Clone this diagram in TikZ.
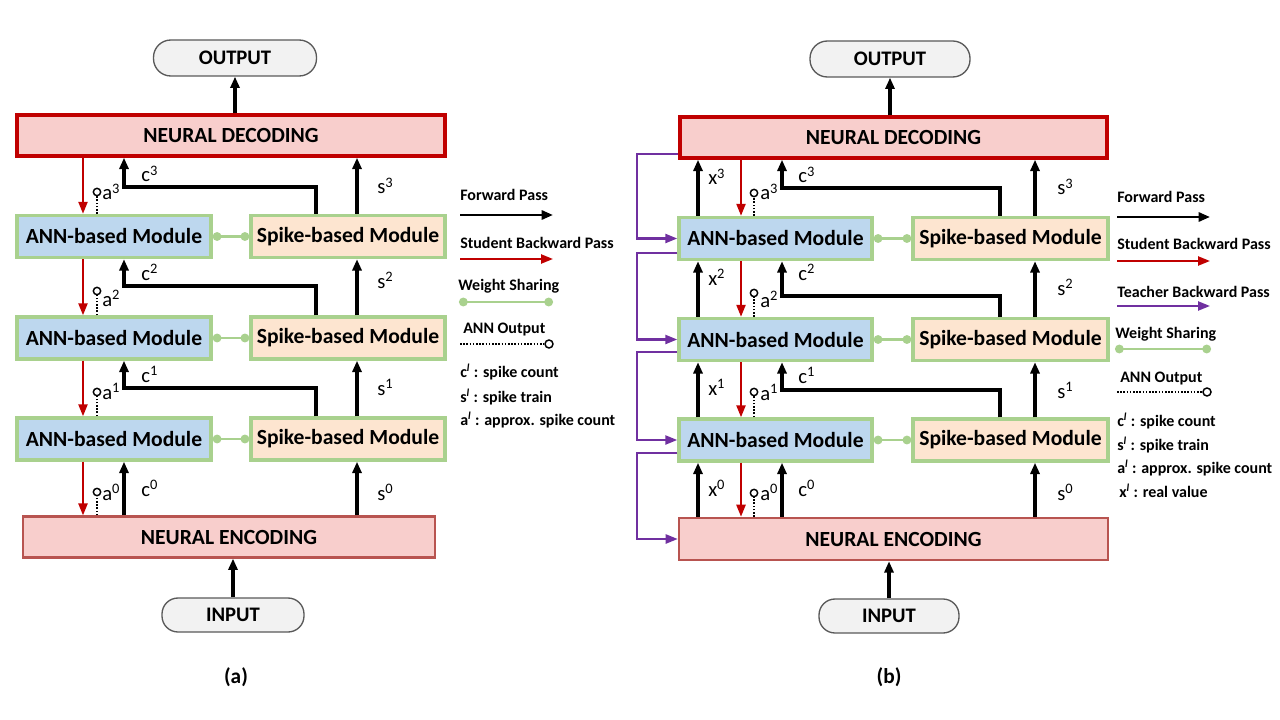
\documentclass[tikz,border=0pt]{standalone}
\usepackage{fontspec}
\setmainfont{Carlito}
\usetikzlibrary{arrows.meta,calc}
\definecolor{decfill}{HTML}{F8CECC}
\definecolor{decline}{HTML}{C00000}
\definecolor{encline}{HTML}{B85450}
\definecolor{annfill}{HTML}{BDD7EE}
\definecolor{modline}{HTML}{A9D18E}
\definecolor{spkfill}{HTML}{FDE5D0}
\definecolor{stud}{HTML}{C00000}
\definecolor{teach}{HTML}{7030A0}
\definecolor{ovfill}{HTML}{F2F2F2}
\definecolor{ovline}{HTML}{595959}
\begin{document}
\begin{tikzpicture}[x=0.75pt,y=-0.75pt,
  modbox/.style={draw=modline, line width=2.6pt, inner sep=0pt, minimum height=31.5pt,
     font=\fontsize{16.2}{18}\selectfont\bfseries},
  ann/.style={modbox, fill=annfill, minimum width=145.5pt},
  spk/.style={modbox, fill=spkfill, minimum width=145.5pt},
  decbox/.style={draw=decline, fill=decfill, line width=2.6pt, inner sep=0pt, minimum height=30.75pt,
     font=\fontsize{16.2}{18}\selectfont\bfseries},
  encbox/.style={draw=encline, fill=decfill, line width=1.9pt, inner sep=0pt, minimum height=30.5pt,
     font=\fontsize{16.2}{18}\selectfont\bfseries},
  oval/.style={draw=ovline, fill=ovfill, line width=1pt, rounded corners=13pt, inner sep=0pt,
     minimum height=27pt, font=\fontsize{15.5}{18}\selectfont\bfseries},
  fwd/.style={draw=black, line width=2.3pt, -{Triangle[length=8.5pt,width=6.8pt]}},
  stu/.style={draw=stud, line width=1.6pt, -{Triangle[length=9pt,width=6.8pt]}},
  tea/.style={draw=teach, line width=1.6pt, -{Triangle[length=9pt,width=6.8pt]}},
  ws/.style={draw=modline, line width=2.2pt, {Circle[length=6.5pt,fill=modline]}-{Circle[length=6.5pt,fill=modline]}},
  anno/.style={draw=black, line width=1.2pt, dash pattern=on 1.2pt off 1.2pt},
  odot/.style={circle, draw=black, fill=white, line width=1.1pt, inner sep=0pt, minimum size=5.5pt},
  lab/.style={anchor=base west, inner sep=0pt, font=\fontsize{15.5}{18}\selectfont},
  leg/.style={anchor=base west, inner sep=0pt, font=\fontsize{12}{14}\selectfont\bfseries},
  capt/.style={inner sep=0pt, font=\fontsize{16}{18}\selectfont\bfseries}
]
\useasboundingbox (0,0) rectangle (1280,720);

% ================= LEFT (a) =================
\node[oval, minimum width=122.25pt] (Lout) at (235,58) {OUTPUT};
\node[decbox, minimum width=321pt] (Ldec) at (231,135.5) {NEURAL DECODING};
\node[ann] (Lann3) at (114,236.5) {ANN-based Module};
\node[spk] (Lspk3) at (348,236.5) {Spike-based Module};
\node[ann] (Lann2) at (114,338) {ANN-based Module};
\node[spk] (Lspk2) at (348,338) {Spike-based Module};
\node[ann] (Lann1) at (114,439) {ANN-based Module};
\node[spk] (Lspk1) at (348,439) {Spike-based Module};
\node[encbox, minimum width=309pt] (Lenc) at (229,537) {NEURAL ENCODING};
\node[oval, minimum width=106.5pt, minimum height=25.5pt, rounded corners=12pt] (Lin) at (233,615) {INPUT};
\node[capt] (Lcap) at (236,677) {(a)};

\coordinate (Lxr) at (83,0);
\coordinate (Lxc) at (124,0);
\coordinate (Lxb) at (316,0);
\coordinate (Lxs) at (357,0);

\draw[fwd] (Ldec.north -| Lout) -- (Lout.south);
\draw[fwd] (Lin.north) -- (Lenc.south -| Lin);

\draw[stu] (Ldec.south -| Lxr) -- (Lann3.north -| Lxr);
\draw[stu] (Lann3.south -| Lxr) -- (Lann2.north -| Lxr);
\draw[stu] (Lann2.south -| Lxr) -- (Lann1.north -| Lxr);
\draw[stu] (Lann1.south -| Lxr) -- (Lenc.north -| Lxr);

\draw[fwd] (Lenc.north -| Lxs) -- (Lspk1.south -| Lxs);
\draw[fwd] (Lspk1.north -| Lxs) -- (Lspk2.south -| Lxs);
\draw[fwd] (Lspk2.north -| Lxs) -- (Lspk3.south -| Lxs);
\draw[fwd] (Lspk3.north -| Lxs) -- (Ldec.south -| Lxs);

\draw[fwd] (Lenc.north -| Lxc) -- (Lann1.south -| Lxc);
\coordinate (Lb1) at (124,388);
\coordinate (Lb2) at (124,286);
\coordinate (Lb3) at (124,187);
\draw[fwd] (Lspk1.north -| Lxb) |- (Lb1) -- (Lann2.south -| Lb1);
\draw[fwd] (Lspk2.north -| Lxb) |- (Lb2) -- (Lann3.south -| Lb2);
\draw[fwd] (Lspk3.north -| Lxb) |- (Lb3) -- (Ldec.south -| Lb3);

\draw[ws] (Lann3.east) -- (Lspk3.west);
\draw[ws] (Lann2.east) -- (Lspk2.west);
\draw[ws] (Lann1.east) -- (Lspk1.west);

\node[odot] (La3) at (97,192) {};
\node[odot] (La2) at (97,291) {};
\node[odot] (La1) at (97,392) {};
\node[odot] (La0) at (97,492) {};
\draw[anno] (Lann3.north -| La3) -- (La3.south);
\draw[anno] (Lann2.north -| La2) -- (La2.south);
\draw[anno] (Lann1.north -| La1) -- (La1.south);
\draw[anno] (Lenc.north -| La0) -- (La0.south);

\node[lab] at (102,200) {a\textsuperscript{3}};
\node[lab] at (102,306) {a\textsuperscript{2}};
\node[lab] at (102,399) {a\textsuperscript{1}};
\node[lab] at (102,500) {a\textsuperscript{0}};
\node[lab] at (141,182) {c\textsuperscript{3}};
\node[lab] at (141,280) {c\textsuperscript{2}};
\node[lab] at (141,382) {c\textsuperscript{1}};
\node[lab] at (141,496) {c\textsuperscript{0}};
\node[lab] at (377,194) {s\textsuperscript{3}};
\node[lab] at (377,288) {s\textsuperscript{2}};
\node[lab] at (377,395) {s\textsuperscript{1}};
\node[lab] at (377,500) {s\textsuperscript{0}};

% left legend
\node[leg] at (460,201) {Forward Pass};
\coordinate (LlFa) at (460,215); \coordinate (LlFb) at (553,215);
\draw[fwd, line width=2pt] (LlFa) -- (LlFb);
\node[leg] at (460,248) {Student Backward Pass};
\coordinate (LlSa) at (460,259); \coordinate (LlSb) at (553,259);
\draw[stu] (LlSa) -- (LlSb);
\node[leg] at (458,290) {Weight Sharing};
\coordinate (LlWa) at (459,302); \coordinate (LlWb) at (553,302);
\draw[ws] (LlWa) -- (LlWb);
\node[leg] at (463,333) {ANN Output};
\node[odot, minimum size=6pt] (LlAo) at (549,344) {};
\coordinate (LlAa) at (460,344);
\draw[anno] (LlAa) -- (LlAo.west);
\node[leg] at (460,377) {c\textsuperscript{\textit{l}} : spike count};
\node[leg] at (460,402) {s\textsuperscript{\textit{l}} : spike train};
\node[leg] at (460,425) {a\textsuperscript{\textit{l}} : approx. spike count};

% ================= RIGHT (b) =================
\node[oval, minimum width=120pt] (Rout) at (890,59) {OUTPUT};
\node[decbox, minimum width=320.25pt] (Rdec) at (893.5,137.5) {NEURAL DECODING};
\node[ann, minimum width=144.75pt] (Rann3) at (775.5,238.5) {ANN-based Module};
\node[spk, minimum width=146.25pt] (Rspk3) at (1010.5,238.5) {Spike-based Module};
\node[ann, minimum width=144.75pt] (Rann2) at (775.5,339.5) {ANN-based Module};
\node[spk, minimum width=146.25pt] (Rspk2) at (1010.5,339.5) {Spike-based Module};
\node[ann, minimum width=144.75pt] (Rann1) at (775.5,440) {ANN-based Module};
\node[spk, minimum width=146.25pt] (Rspk1) at (1010.5,440) {Spike-based Module};
\node[encbox, minimum width=321.75pt, minimum height=31.5pt] (Renc) at (893.5,539) {NEURAL ENCODING};
\node[oval, minimum width=105pt, minimum height=25.5pt, rounded corners=12pt] (Rin) at (889,616) {INPUT};
\node[capt] (Rcap) at (889,677) {(b)};

\coordinate (Rxx) at (698,0);
\coordinate (Rxr) at (741,0);
\coordinate (Rxc) at (782,0);
\coordinate (Rxb) at (1000,0);
\coordinate (Rxs) at (1035,0);
\coordinate (Rxp) at (637,0);

\draw[fwd] (Rdec.north -| Rout) -- (Rout.south);
\draw[fwd] (Rin.north) -- (Renc.south -| Rin);

\draw[fwd] (Renc.north -| Rxx) -- (Rann1.south -| Rxx);
\draw[fwd] (Rann1.north -| Rxx) -- (Rann2.south -| Rxx);
\draw[fwd] (Rann2.north -| Rxx) -- (Rann3.south -| Rxx);
\draw[fwd] (Rann3.north -| Rxx) -- (Rdec.south -| Rxx);

\draw[stu] (Rdec.south -| Rxr) -- (Rann3.north -| Rxr);
\draw[stu] (Rann3.south -| Rxr) -- (Rann2.north -| Rxr);
\draw[stu] (Rann2.south -| Rxr) -- (Rann1.north -| Rxr);
\draw[stu] (Rann1.south -| Rxr) -- (Renc.north -| Rxr);

\draw[fwd] (Renc.north -| Rxs) -- (Rspk1.south -| Rxs);
\draw[fwd] (Rspk1.north -| Rxs) -- (Rspk2.south -| Rxs);
\draw[fwd] (Rspk2.north -| Rxs) -- (Rspk3.south -| Rxs);
\draw[fwd] (Rspk3.north -| Rxs) -- (Rdec.south -| Rxs);

\draw[fwd] (Renc.north -| Rxc) -- (Rann1.south -| Rxc);
\coordinate (Rb1) at (782,390);
\coordinate (Rb2) at (782,296);
\coordinate (Rb3) at (782,188);
\draw[fwd] (Rspk1.north -| Rxb) |- (Rb1) -- (Rann2.south -| Rb1);
\draw[fwd] (Rspk2.north -| Rxb) |- (Rb2) -- (Rann3.south -| Rb2);
\draw[fwd] (Rspk3.north -| Rxb) |- (Rb3) -- (Rdec.south -| Rb3);

\draw[ws] (Rann3.east) -- (Rspk3.west);
\draw[ws] (Rann2.east) -- (Rspk2.west);
\draw[ws] (Rann1.east) -- (Rspk1.west);

\coordinate (Rp4) at ($(Rdec.south west)+(0,-6)$);
\coordinate (Rp3) at ($(Rann3.south west)+(0,-8)$);
\coordinate (Rp2) at ($(Rann2.south west)+(0,-10)$);
\coordinate (Rp1) at ($(Rann1.south west)+(0,-10)$);
\draw[tea] (Rp4) -- (Rp4 -| Rxp) |- (Rann3.west);
\draw[tea] (Rp3) -- (Rp3 -| Rxp) |- (Rann2.west);
\draw[tea] (Rp2) -- (Rp2 -| Rxp) |- (Rann1.west);
\draw[tea] (Rp1) -- (Rp1 -| Rxp) |- (Renc.west);

\node[odot] (Ra3) at (754,193) {};
\node[odot] (Ra2) at (754,293) {};
\node[odot] (Ra1) at (754,392) {};
\node[odot] (Ra0) at (754,493) {};
\draw[anno] (Rann3.north -| Ra3) -- (Ra3.south);
\draw[anno] (Rann2.north -| Ra2) -- (Ra2.south);
\draw[anno] (Rann1.north -| Ra1) -- (Ra1.south);
\draw[anno] (Renc.north -| Ra0) -- (Ra0.south);

\node[lab] at (708,185) {x\textsuperscript{3}};
\node[lab] at (708,285) {x\textsuperscript{2}};
\node[lab] at (708,395) {x\textsuperscript{1}};
\node[lab] at (708,496) {x\textsuperscript{0}};
\node[lab] at (760,200) {a\textsuperscript{3}};
\node[lab] at (760,307) {a\textsuperscript{2}};
\node[lab] at (760,400) {a\textsuperscript{1}};
\node[lab] at (760,500) {a\textsuperscript{0}};
\node[lab] at (798,183) {c\textsuperscript{3}};
\node[lab] at (798,280) {c\textsuperscript{2}};
\node[lab] at (798,383) {c\textsuperscript{1}};
\node[lab] at (798,496) {c\textsuperscript{0}};
\node[lab] at (1057,195) {s\textsuperscript{3}};
\node[lab] at (1057,295) {s\textsuperscript{2}};
\node[lab] at (1057,398) {s\textsuperscript{1}};
\node[lab] at (1057,500) {s\textsuperscript{0}};

% right legend
\node[leg] at (1117,203) {Forward Pass};
\coordinate (RlFa) at (1117,217); \coordinate (RlFb) at (1210,217);
\draw[fwd, line width=2pt] (RlFa) -- (RlFb);
\node[leg] at (1117,249) {Student Backward Pass};
\coordinate (RlSa) at (1117,261); \coordinate (RlSb) at (1210,261);
\draw[stu] (RlSa) -- (RlSb);
\node[leg] at (1117,297) {Teacher Backward Pass};
\coordinate (RlTa) at (1117,306); \coordinate (RlTb) at (1210,306);
\draw[tea] (RlTa) -- (RlTb);
\node[leg] at (1115,338) {Weight Sharing};
\coordinate (RlWa) at (1115,349); \coordinate (RlWb) at (1211,349);
\draw[ws] (RlWa) -- (RlWb);
\node[leg] at (1120,382) {ANN Output};
\node[odot, minimum size=6pt] (RlAo) at (1207,392) {};
\coordinate (RlAa) at (1117,392);
\draw[anno] (RlAa) -- (RlAo.west);
\node[leg] at (1117,426) {c\textsuperscript{\textit{l}} : spike count};
\node[leg] at (1117,450) {s\textsuperscript{\textit{l}} : spike train};
\node[leg] at (1117,473) {a\textsuperscript{\textit{l}} : approx. spike count};
\node[leg] at (1119,497) {x\textsuperscript{\textit{l}} : real value};
\end{tikzpicture}
\end{document}
